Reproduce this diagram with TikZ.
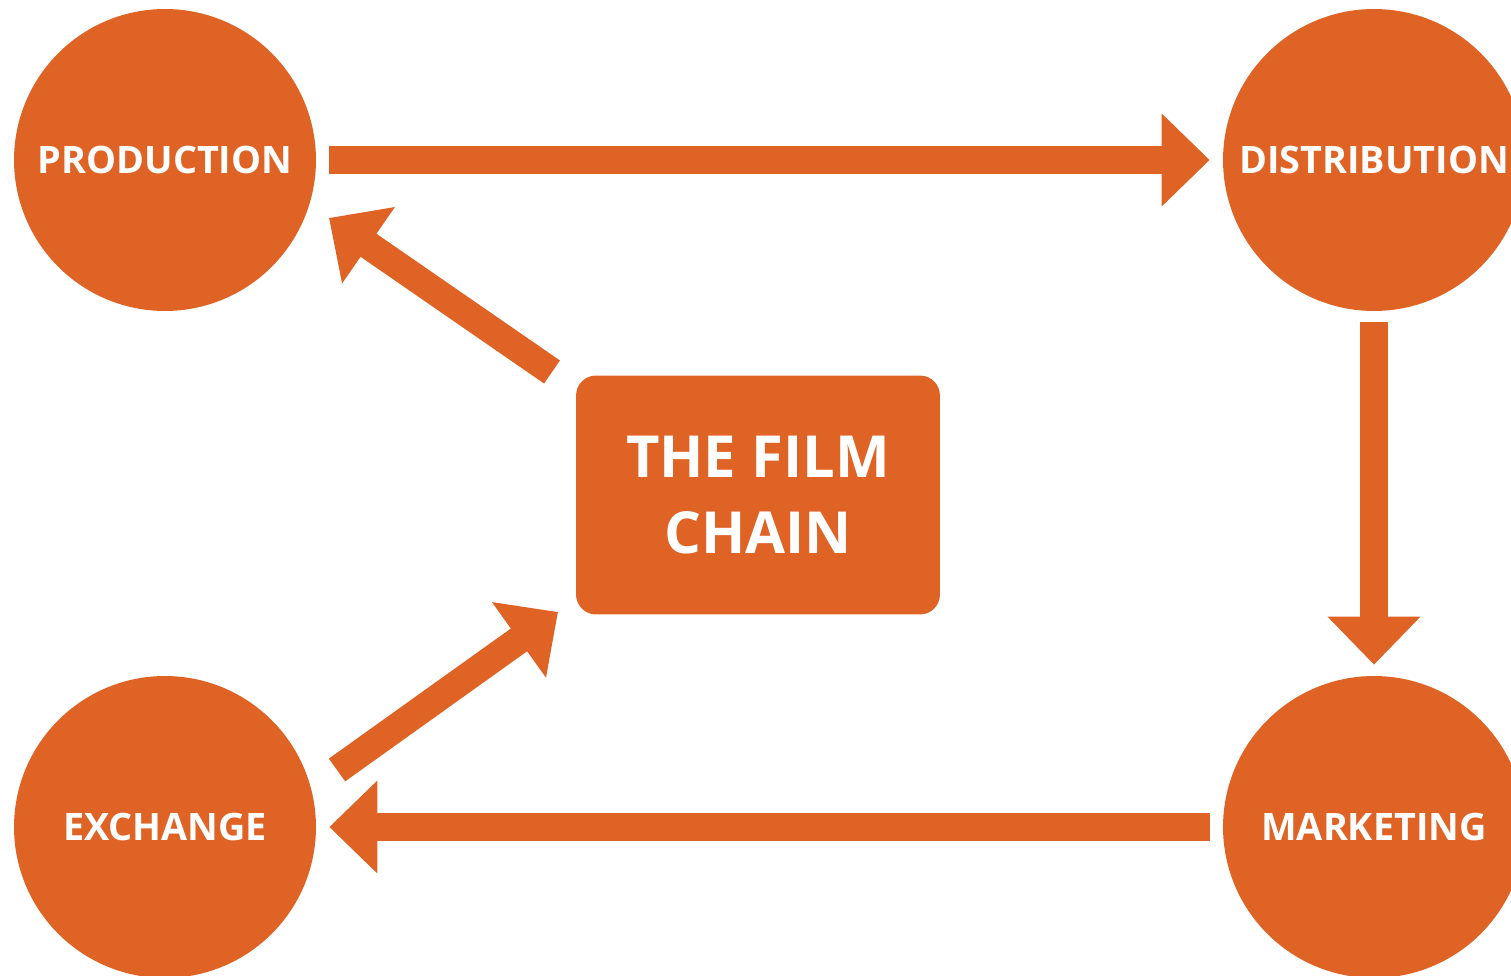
\documentclass[tikz,border=0pt]{standalone}
\usepackage{fontspec}
\setmainfont{Open Sans}
\usetikzlibrary{arrows.meta}
\definecolor{filmorange}{HTML}{E06326}

\begin{document}
\begin{tikzpicture}[x=0.02cm,y=-0.02cm,
		stage/.style={circle,fill=filmorange,text=white,minimum size=6.04cm,inner sep=0pt,font=\fontsize{21.5}{24}\selectfont\bfseries},
		hub/.style={rectangle,rounded corners=0.4cm,fill=filmorange,text=white,minimum width=7.28cm,minimum height=4.78cm,align=center,font=\fontsize{33}{43}\selectfont\bfseries},
		flow/.style={draw=filmorange,line width=0.56cm,-{Triangle[length=0.96cm,width=1.8cm]}}]
			\useasboundingbox (0,0) rectangle (1511,976);
			\clip (0,0) rectangle (1511,976);
			\node[stage] (prod)  at (165,160)  {PRODUCTION};
			\node[stage] (dist)  at (1374,160) {DISTRIBUTION};
			\node[stage] (mark)  at (1374,827) {MARKETING};
			\node[stage] (exch)  at (165,827)  {EXCHANGE};
			\node[hub]   (chain) at (758,495)  {THE FILM\\CHAIN};
			\coordinate (c1) at (552,372);
			\coordinate (p1) at (329,218);
			\coordinate (e1) at (337,770);
			\coordinate (c2) at (558,612);

			\path
					(prod) edge [flow, shorten <=0.26cm, shorten >=0.26cm] (dist)
					(dist) edge [flow, shorten <=0.22cm, shorten >=0.22cm] (mark)
					(mark) edge [flow, shorten <=0.26cm, shorten >=0.26cm] (exch)
					(c1) edge [flow] (p1)
					(e1) edge [flow] (c2);
		\end{tikzpicture}
\end{document}
